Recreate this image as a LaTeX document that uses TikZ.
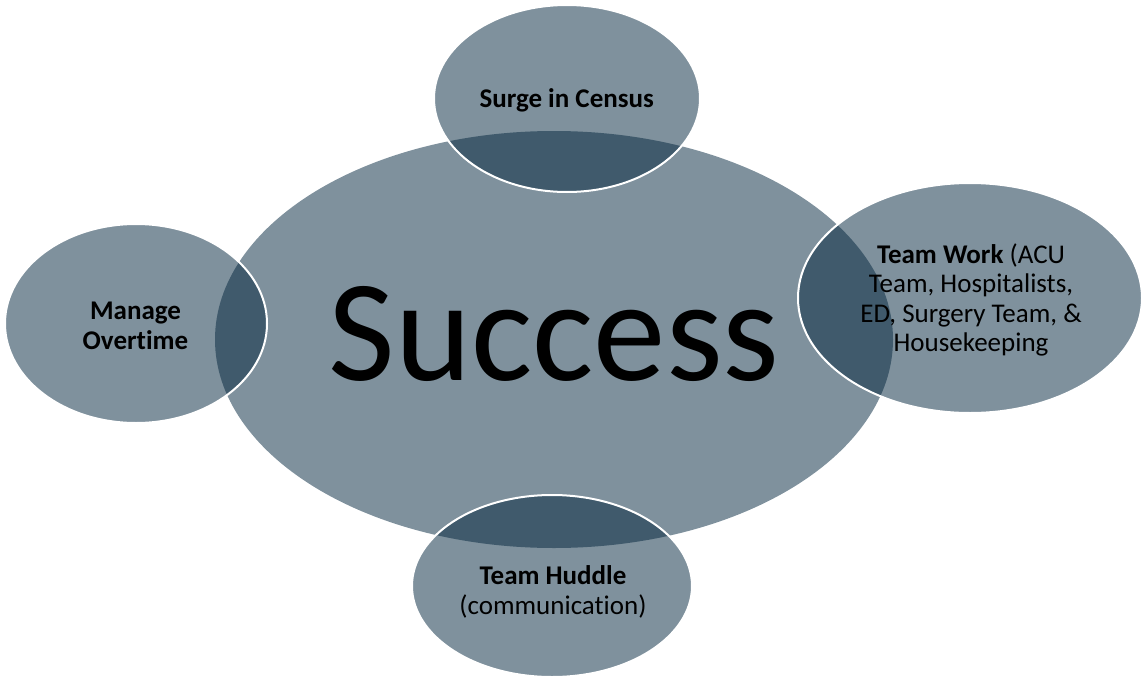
\documentclass[tikz,border=0pt]{standalone}
\usepackage{fontspec}
\setmainfont{Carlito}[Ligatures=NoCommon]
\usetikzlibrary{shapes.geometric}
\definecolor{lightfill}{HTML}{7F919D}
\definecolor{darkfill}{HTML}{405A6C}
\tikzset{
  blob/.style={fill=lightfill},
  rim/.style={draw=white, line width=2pt},
  lbl/.style={align=center, font=\fontsize{27}{29.5}\selectfont, inner sep=0pt},
}
\newcommand{\sst}{\rule[-8.85pt]{0pt}{29.5pt}}
\begin{document}
\begin{tikzpicture}[x=1pt,y=-1pt]
\useasboundingbox (0,0) rectangle (1143,677);
% centres
\coordinate (cc) at (554,339.5);
\coordinate (tc) at (567,98.5);
\coordinate (rc) at (970,298);
\coordinate (lc) at (136,323.5);
\coordinate (bc) at (552,586);
% base fills
\fill[blob] (cc) ellipse [x radius=339pt, y radius=208.5pt];
\fill[blob] (tc) ellipse [x radius=133pt, y radius=93.5pt];
\fill[blob] (rc) ellipse [x radius=172pt, y radius=115pt];
\fill[blob] (lc) ellipse [x radius=131pt, y radius=99.5pt];
\fill[blob] (bc) ellipse [x radius=140pt, y radius=91pt];
% overlaps
\begin{scope}
\clip (cc) ellipse [x radius=339pt, y radius=208.5pt];
\fill[darkfill] (tc) ellipse [x radius=133pt, y radius=93.5pt];
\fill[darkfill] (rc) ellipse [x radius=172pt, y radius=115pt];
\fill[darkfill] (lc) ellipse [x radius=131pt, y radius=99.5pt];
\fill[darkfill] (bc) ellipse [x radius=140pt, y radius=91pt];
\end{scope}
% white rims of the satellites
\draw[rim] (tc) ellipse [x radius=133pt, y radius=93.5pt];
\draw[rim] (rc) ellipse [x radius=172pt, y radius=115pt];
\draw[rim] (lc) ellipse [x radius=131pt, y radius=99.5pt];
\draw[rim] (bc) ellipse [x radius=140pt, y radius=91pt];
% texts
\node[anchor=base, inner sep=0pt, font=\fontsize{145}{170}\selectfont] (success) at (554,380) {Success};
\node[lbl] (surge) at (566.7,102) {\sst\textbf{Surge in Census}};
\node[lbl] (teamwork) at (971,301.5) {\sst\textbf{Team Work} (ACU\\\sst Team, Hospitalists,\\\sst ED, Surgery Team, \&\\\sst Housekeeping};
\node[lbl] (overtime) at (135.5,328.5) {\sst\textbf{Manage}\\\sst\textbf{Overtime}};
\node[lbl] (huddle) at (553,593.5) {\sst\textbf{Team Huddle}\\\sst(communication)};
\end{tikzpicture}
\end{document}
